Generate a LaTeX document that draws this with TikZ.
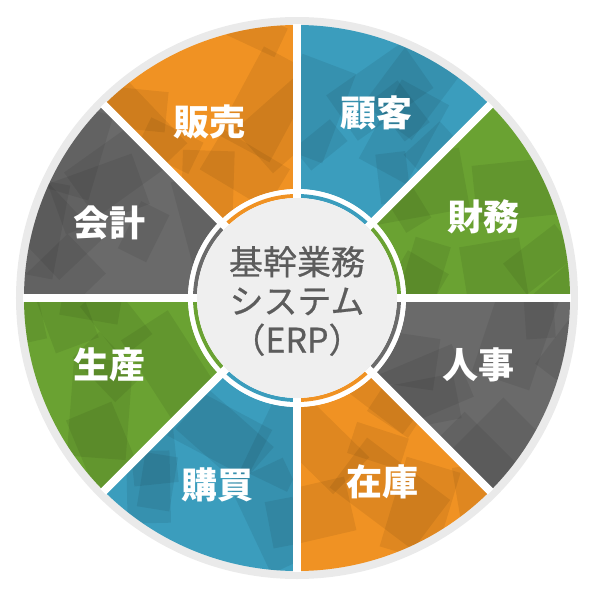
\documentclass[tikz,border=0pt]{standalone}
\usepackage{fontspec}
\newfontfamily\cjk{Noto Sans CJK JP}
\newfontfamily\cjkmed[UprightFeatures={FakeBold=0.6}]{Noto Sans CJK JP}
\usetikzlibrary{calc}
\definecolor{erporange}{RGB}{240,146,35}
\definecolor{erpblue}{RGB}{59,157,189}
\definecolor{erpgreen}{RGB}{106,162,50}
\definecolor{erpgray}{RGB}{106,106,106}
\definecolor{ringgray}{RGB}{234,234,234}
\definecolor{hubgray}{RGB}{239,239,239}
\definecolor{hubtext}{RGB}{92,92,92}

\begin{document}
\begin{tikzpicture}[x=1pt, y=1pt,
    seglabel/.style={text=white, font=\cjk\bfseries\fontsize{36}{36}\selectfont, inner sep=0pt},
    hub/.style={text=hubtext, align=center, font=\cjkmed\fontsize{34}{39}\selectfont, inner sep=0pt},
    facet/.style={fill=black, opacity=0.07},
    separator/.style={white, line width=8pt}]
    \useasboundingbox (-297,-302) rectangle (303,298);
    \pgfmathsetseed{17}
    % outer ring
    \fill[ringgray] (0,0) circle (281pt);
    % segments, clockwise from the top
    \foreach \a/\c in {45/erpblue, 0/erpgreen, -45/erpgray, -90/erporange,
                      -135/erpblue, -180/erpgreen, 135/erpgray, 90/erporange}{
        \begin{scope}
            \clip (\a:109pt) -- (\a:273pt) arc[start angle=\a, end angle=\a+45, radius=273pt]
                -- (\a+45:109pt) arc[start angle=\a+45, end angle=\a, radius=109pt] -- cycle;
            \fill[\c] (0,0) circle (280pt);
            \foreach \k in {1,...,8}{
                \pgfmathsetmacro{\pr}{110+165*rnd}
                \pgfmathsetmacro{\pa}{\a+45*rnd}
                \pgfmathsetmacro{\rot}{360*rnd}
                \pgfmathsetmacro{\sz}{22+30*rnd}
                \fill[facet, rotate around={\rot:(\pa:\pr pt)}]
                    ($(\pa:\pr pt)+(-\sz,-0.6*\sz)$) rectangle ++(2*\sz,1.2*\sz);
            }
        \end{scope}
    }
    \fill[white] (0,0) circle (109pt);
    % thin arcs around the hub
    \foreach \a/\c in {45/erpblue, 0/erpgreen, -45/erpgray, -90/erporange,
                      -135/erpblue, -180/erpgreen, 135/erpgray, 90/erporange}{
        \fill[\c] (\a:100pt) -- (\a:104pt) arc[start angle=\a, end angle=\a+45, radius=104pt]
            -- (\a+45:100pt) arc[start angle=\a+45, end angle=\a, radius=100pt] -- cycle;
    }
    \foreach \a in {0,45,...,315}{
        \draw[separator] (\a:100pt) -- (\a:274pt);
    }
    \fill[hubgray] (0,0) circle (100pt);

    \node[hub] (erp) at (0,-3) {基幹業務\\システム\\（ERP）};

    \node[seglabel] (hanbai) at (-87,176) {販売};
    \node[seglabel] (kokyaku) at (80,185) {顧客};
    \node[seglabel] (zaimu) at (186,81) {財務};
    \node[seglabel] (jinji) at (181,-67) {人事};
    \node[seglabel] (zaiko) at (86,-184) {在庫};
    \node[seglabel] (koubai) at (-79,-187) {購買};
    \node[seglabel] (seisan) at (-187,-67) {生産};
    \node[seglabel] (kaikei) at (-187,75) {会計};
\end{tikzpicture}
\end{document}
